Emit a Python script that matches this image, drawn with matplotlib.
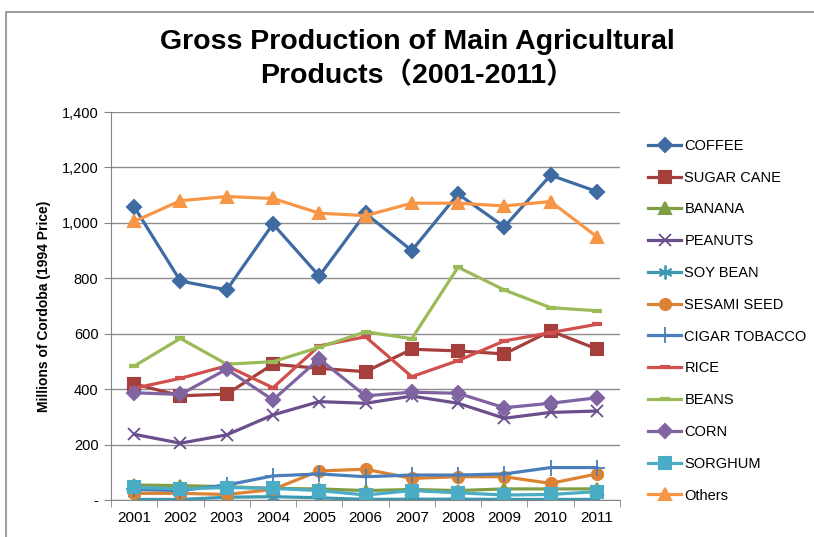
import matplotlib.pyplot as plt
from matplotlib.patches import Rectangle
from matplotlib.ticker import FixedLocator

# years on the category axis
years = ['2001', '2002', '2003', '2004', '2005', '2006',
         '2007', '2008', '2009', '2010', '2011']

# millions of cordoba (1994 price)
coffee = [1058, 790, 758, 996, 808, 1034, 900, 1104, 986, 1172, 1113]
sugar_cane = [419, 376, 382, 490, 475, 463, 544, 538, 527, 610, 545]
banana = [54, 52, 48, 42, 40, 34, 38, 34, 40, 40, 40]
peanuts = [237, 205, 235, 307, 355, 349, 375, 349, 295, 316, 321]
soy_bean = [2, 2, 10, 12, 8, 2, 3, 3, 2, 2, 2]
sesami_seed = [24, 24, 20, 38, 105, 111, 78, 84, 84, 60, 94]
cigar_tobacco = [38, 34, 54, 87, 94, 84, 90, 90, 94, 117, 117]
rice = [403, 439, 484, 405, 556, 589, 445, 503, 574, 604, 634]
beans = [483, 583, 490, 499, 551, 607, 582, 840, 758, 694, 683]
corn = [387, 381, 472, 361, 509, 376, 389, 385, 333, 349, 369]
sorghum = [46, 40, 45, 42, 34, 18, 34, 26, 18, 20, 30]
others = [1005, 1080, 1095, 1088, 1035, 1026, 1071, 1071, 1061, 1077, 950]

names = ['COFFEE', 'SUGAR CANE', 'BANANA', 'PEANUTS', 'SOY BEAN', 'SESAMI SEED',
         'CIGAR TOBACCO', 'RICE', 'BEANS', 'CORN', 'SORGHUM', 'Others']
series = [coffee, sugar_cane, banana, peanuts, soy_bean, sesami_seed,
          cigar_tobacco, rice, beans, corn, sorghum, others]

# excel-ish styling for each series
colors = ['#3F6BA3', '#A43F3C', '#7F9E45', '#6A4F8C', '#3C99B1', '#DB8233',
          '#4A7EBB', '#D0504D', '#9BBB59', '#8064A2', '#4BACC6', '#F79646']
markers = ['D', 's', '^', 'x', (6, 2, 0), 'o', '+', '_', '_', 'D', 's', '^']
msizes = [7, 8, 8, 9, 10, 8, 11, 7, 7, 7, 8, 9]

plt.rcParams['font.family'] = ['Liberation Sans', 'Noto Sans CJK SC', 'DejaVu Sans']

fig = plt.figure(figsize=(8.14, 5.37), dpi=100)
ax = fig.add_axes([111 / 814, 1 - 500 / 537, 509 / 814, 388 / 537])

# chart area border (only top/left visible in the crop)
fig.patches.append(Rectangle((6 / 814, -0.1), 1.2, 1 - 12 / 537 + 0.1,
                             transform=fig.transFigure, fill=False,
                             edgecolor='#8c8c8c', linewidth=1.2))

x = list(range(len(years)))
for i in range(len(series)):
    mew = 1.5
    if markers[i] == '_':
        mew = 3
    if markers[i] in ('x', '+') or isinstance(markers[i], tuple):
        mew = 1.3
    ax.plot(x, series[i], color=colors[i], linewidth=2.3, marker=markers[i],
            markersize=msizes[i], markeredgewidth=mew,
            markerfacecolor=colors[i], markeredgecolor=colors[i],
            label=names[i], solid_joinstyle='round')

ax.set_xlim(-0.5, 10.5)
ax.set_ylim(0, 1400)
ax.set_yticks(range(0, 1401, 200))
ax.set_yticklabels(['-'] + ['{:,}'.format(v) for v in range(200, 1401, 200)],
                   fontsize=10.5)
ax.set_xticks(x)
ax.set_xticklabels(years, fontsize=11)
ax.xaxis.set_minor_locator(FixedLocator([i - 0.5 for i in range(12)]))
ax.tick_params(axis='x', which='major', length=0, pad=8)
ax.tick_params(axis='x', which='minor', length=5, color='#868686')
ax.tick_params(axis='y', length=5, color='#868686', pad=4)

ax.grid(axis='y', color='#8c8c8c', linewidth=1)
ax.set_axisbelow(True)
for s in ['top', 'right']:
    ax.spines[s].set_visible(False)
ax.spines['left'].set_color('#868686')
ax.spines['bottom'].set_color('#868686')

ax.set_ylabel('Millions of Cordoba (1994 Price)', fontsize=10, fontweight='bold',
              labelpad=8)

fig.text(417 / 814, 1 - 59 / 537, 'Gross Production of Main Agricultural\nProducts（2001-2011）',
         ha='center', va='center', fontsize=20.5, fontweight='bold', linespacing=1.3)

leg = ax.legend(loc='upper left', bbox_to_anchor=(642 / 814, 1 - 133 / 537),
                bbox_transform=fig.transFigure, frameon=False, fontsize=10.5,
                handlelength=2.3, handletextpad=0.2, labelspacing=1.22,
                borderaxespad=0)

fig.savefig('out.png', dpi=100)
